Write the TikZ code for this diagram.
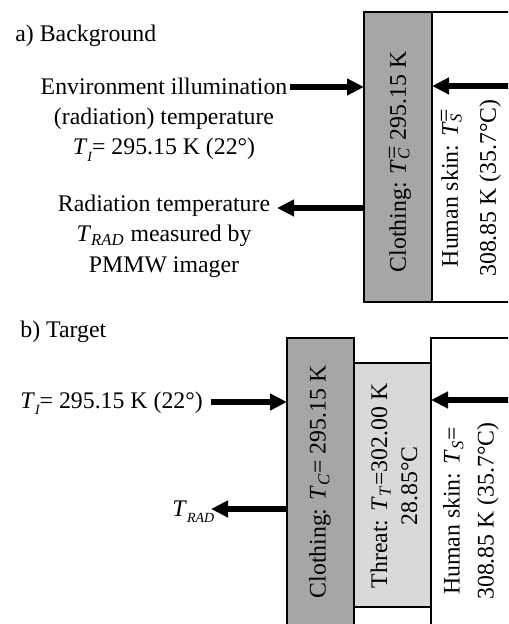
\documentclass[tikz,border=0pt]{standalone}
\usepackage{fontspec}
\setmainfont{Liberation Serif}
\usepackage{tikz}
\usetikzlibrary{arrows.meta}
\tikzset{bigarrow/.style={line width=2.75pt,-{Triangle[length=8.5pt,width=8pt]}}}
\tikzset{layer/.style={draw=black,line width=1pt,inner sep=0pt,outer sep=0pt}}
\tikzset{clothbox/.style={layer,fill=black!35}}
\tikzset{threatbox/.style={layer,fill=black!15}}
\tikzset{skinbox/.style={layer,fill=white}}
\tikzset{lbl/.style={inner sep=0pt,align=center}}
\newcommand{\Tsb}[1]{\textit{T}\textsubscript{\textit{#1}}}
\newcommand{\Tlow}[1]{\textit{T}\raisebox{-.55ex}{\scriptsize\itshape #1}}
\newcommand{\Tst}[1]{\textit{T}\rlap{\textsubscript{\textit{#1}}}\raisebox{.55ex}{=}}

\begin{document}
\begin{tikzpicture}[x=0.5pt,y=-0.5pt,every node/.style={font=\fontsize{11.9}{15}\selectfont}]
      \clip (0,0) rectangle (508,624);
      \fill[white] (0,0) rectangle (508,624);
      % a) background
      \node [lbl, anchor=base west] (titleA) at (15,42) {a) Background};
      \node [clothbox, minimum width=34pt, minimum height=145pt] (clothA) at (398,157) {};
      \node [skinbox, minimum width=84pt, minimum height=145pt] (skinA) at (516,157) {};
      \node [lbl, rotate=90] (clothlblA) at (400,162) {Clothing: \Tst{C} 295.15 K};
      \node [lbl, rotate=90] (skinlblA) at (471,188) {Human skin: \Tst{S}\\[4pt] 308.85 K (35.7°C)};
      \node [lbl, anchor=base] (envA) at (164,155) {Environment illumination\\ (radiation) temperature\\ \Tlow{I}= 295.15 K (22°)};
      \node [lbl, anchor=base] (radA) at (164,272) {Radiation temperature\\ \Tsb{RAD} measured by\\ PMMW imager};
      \coordinate (inA) at (290,87);
      \coordinate (skininA) at (512,86);
      \coordinate (outA) at (277,208);
      \draw [bigarrow] (inA) -- (clothA.west |- inA);
      \draw [bigarrow] (skininA) -- (skinA.west |- skininA);
      \draw [bigarrow] (clothA.west |- outA) -- (outA);
      % b) target
      \node [lbl, anchor=base west] (titleB) at (20,337) {b) Target};
      \node [threatbox, minimum width=38.5pt, minimum height=122pt] (threatB) at (392.5,485) {};
      \node [clothbox, minimum width=33.5pt, minimum height=181pt] (clothB) at (320.5,519) {};
      \node [skinbox, minimum width=84.5pt, minimum height=181pt] (skinB) at (515.5,519) {};
      \node [lbl, rotate=90] (clothlblB) at (320,482) {Clothing: \Tsb{C}= 295.15 K};
      \node [lbl, rotate=90] (threatlblB) at (394,486) {Threat: \Tsb{T}=302.00 K\\ 28.85°C};
      \node [lbl, rotate=90] (skinlblB) at (471,511) {Human skin: \Tsb{S}=\\[2pt] 308.85 K (35.7°C)};
      \node [lbl, anchor=base west] (tiB) at (20,408) {\Tlow{I}= 295.15 K (22°)};
      \node [lbl, anchor=base west] (tradB) at (172,516) {\Tlow{RAD}};
      \coordinate (inB) at (211,402);
      \coordinate (skininB) at (512,400);
      \coordinate (outB) at (211,509);
      \draw [bigarrow] (inB) -- (clothB.west |- inB);
      \draw [bigarrow] (skininB) -- (skinB.west |- skininB);
      \draw [bigarrow] (clothB.west |- outB) -- (outB);
\end{tikzpicture}
\end{document}
